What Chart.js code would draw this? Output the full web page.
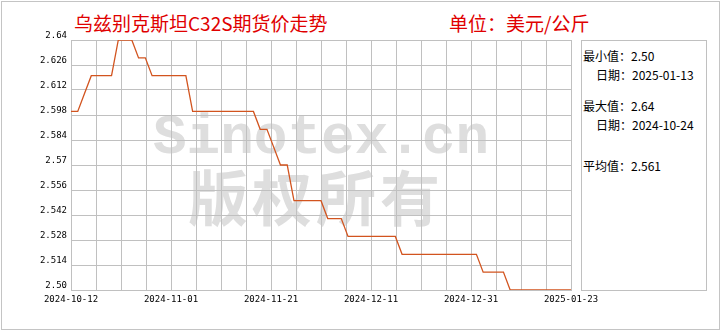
<!DOCTYPE html>
<html>
<head>
<meta charset="utf-8">
<script src="https://cdn.jsdelivr.net/npm/chart.js@4"></script>
<style>
  html, body { margin: 0; padding: 0; background: #fff; }
  body { width: 720px; height: 330px; position: relative; overflow: hidden; font-family: "Noto Sans CJK SC", sans-serif; }
  .frame { position: absolute; left: 1px; top: 1px; width: 719px; height: 329px; box-sizing: border-box; border: 1px solid #c4c4c4; }
  .title { position: absolute; top: 13px; font-size: 19px; line-height: 19px; color: #e00000; white-space: nowrap; }
  .stats-box { position: absolute; left: 581px; top: 40px; width: 126px; height: 251px; box-sizing: border-box; border: 1px solid #c0c0c0; }
  .stat { position: absolute; font-size: 12px; line-height: 12px; color: #000; white-space: nowrap; }
  canvas { position: absolute; left: 0; top: 0; }
</style>
</head>
<body>
<div class="frame"></div>
<div class="title" style="left:74px">乌兹别克斯坦C32S期货价走势</div>
<div class="title" style="left:449px">单位：美元/公斤</div>
<div class="stats-box"></div>
<div class="stat" style="left:583px;top:50px">最小值：2.50</div>
<div class="stat" style="left:596px;top:69px">日期：2025-01-13</div>
<div class="stat" style="left:583px;top:100px">最大值：2.64</div>
<div class="stat" style="left:596px;top:119px">日期：2024-10-24</div>
<div class="stat" style="left:583px;top:160px">平均值：2.561</div>
<canvas id="chart" width="720" height="330"></canvas>
<script>
// 数据
const xTickLabels = ['2024-10-12', '2024-11-01', '2024-11-21', '2024-12-11', '2024-12-31', '2025-01-23'];
const yTickLabels = ['2.50', '2.514', '2.528', '2.542', '2.556', '2.57', '2.584', '2.598', '2.612', '2.626', '2.64'];
const priceValues = [
    2.60, 2.60, 2.61, 2.62, 2.62, 2.62, 2.62, 2.64, 2.64, 2.64,
    2.63, 2.63, 2.62, 2.62, 2.62, 2.62, 2.62, 2.62, 2.60, 2.60,
    2.60, 2.60, 2.60, 2.60, 2.60, 2.60, 2.60, 2.60, 2.59, 2.59,
    2.58, 2.57, 2.57, 2.55, 2.55, 2.55, 2.55, 2.55, 2.54, 2.54,
    2.54, 2.53, 2.53, 2.53, 2.53, 2.53, 2.53, 2.53, 2.53, 2.52,
    2.52, 2.52, 2.52, 2.52, 2.52, 2.52, 2.52, 2.52, 2.52, 2.52,
    2.52, 2.51, 2.51, 2.51, 2.51, 2.50, 2.50, 2.50, 2.50, 2.50,
    2.50, 2.50, 2.50, 2.50, 2.50
];
const yMin = 2.50;
const yStep = 0.014;
const xGridCount = 20;

const lastIndex = priceValues.length - 1;
const gridColor = '#c0c0c0';
const tickFont = { family: '"DejaVu Sans Mono"', size: 9 };

// 水印
const watermark = {
    id: 'watermark',
    beforeDraw(chart) {
        const ctx = chart.ctx;
        ctx.save();
        ctx.fillStyle = '#dedede';
        ctx.textBaseline = 'alphabetic';
        ctx.font = 'bold 56px "Liberation Mono"';
        ctx.fillText('Sinotex.cn', 153, 153);
        ctx.font = 'bold 60px "Noto Sans CJK SC"';
        '版权所有'.split('').forEach((c, k) => ctx.fillText(c, 188 + k * 64, 221));
        ctx.restore();
    }
};

new Chart(document.getElementById('chart'), {
    type: 'line',
    data: {
        datasets: [{
            data: priceValues.map((v, i) => ({ x: i, y: v })),
            borderColor: '#d2541f',
            borderWidth: 1.3,
            pointRadius: 0,
            tension: 0,
            fill: false
        }]
    },
    options: {
        responsive: false,
        animation: false,
        devicePixelRatio: 1,
        layout: { padding: { left: 0, right: 149, top: 40, bottom: 0 } },
        plugins: {
            legend: { display: false },
            tooltip: { enabled: false }
        },
        scales: {
            x: {
                type: 'linear',
                min: 0,
                max: lastIndex,
                afterBuildTicks: scale => {
                    scale.ticks = Array.from({ length: xGridCount + 1 }, (_, k) => ({ value: k * lastIndex / xGridCount }));
                },
                afterFit: scale => { scale.height = 40; },
                grid: { color: gridColor, drawTicks: false },
                border: { color: gridColor },
                ticks: {
                    autoSkip: false,
                    maxRotation: 0,
                    padding: 4,
                    color: '#000',
                    font: tickFont,
                    callback: (value, index) => index % 4 === 0 ? xTickLabels[index / 4] : ''
                }
            },
            y: {
                min: yMin,
                max: yMin + yStep * (yTickLabels.length - 1),
                afterBuildTicks: scale => {
                    scale.ticks = yTickLabels.map((_, k) => ({ value: yMin + k * yStep }));
                },
                afterFit: scale => { scale.width = 71; },
                grid: { color: gridColor, drawTicks: false },
                border: { color: gridColor },
                ticks: {
                    padding: 4,
                    labelOffset: -4,
                    color: '#000',
                    font: tickFont,
                    callback: (value, index) => yTickLabels[index]
                }
            }
        }
    },
    plugins: [watermark]
});
</script>
</body>
</html>
